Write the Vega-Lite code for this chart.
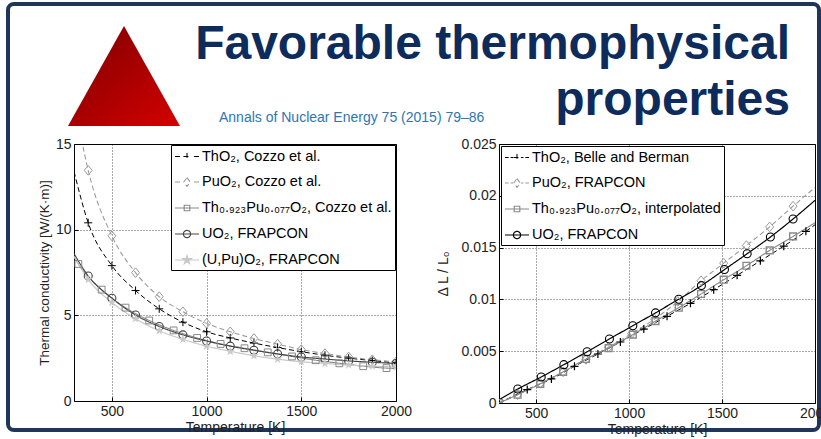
{
 "$schema": "https://vega.github.io/schema/vega-lite/v6.json",
 "autosize": {"type": "pad"},
 "padding": {"left": 5, "top": 2, "right": 0, "bottom": 0},
 "background": "#ffffff",
 "bounds": "flush",
 "spacing": 10,
 "datasets": {
  "head": [{"t1": "Favorable thermophysical", "t2": "properties", "c": "Annals of Nuclear Energy 75 (2015) 79–86"}],
  "k": [
   {"s": "ThO₂, Cozzo et al.", "T": 300, "v": 13.4, "m": 0},
   {"s": "ThO₂, Cozzo et al.", "T": 375, "v": 10.4, "m": 1},
   {"s": "ThO₂, Cozzo et al.", "T": 500, "v": 7.9, "m": 1},
   {"s": "ThO₂, Cozzo et al.", "T": 625, "v": 6.45, "m": 1},
   {"s": "ThO₂, Cozzo et al.", "T": 750, "v": 5.38, "m": 1},
   {"s": "ThO₂, Cozzo et al.", "T": 875, "v": 4.6, "m": 1},
   {"s": "ThO₂, Cozzo et al.", "T": 1000, "v": 4.04, "m": 1},
   {"s": "ThO₂, Cozzo et al.", "T": 1125, "v": 3.68, "m": 1},
   {"s": "ThO₂, Cozzo et al.", "T": 1250, "v": 3.38, "m": 1},
   {"s": "ThO₂, Cozzo et al.", "T": 1375, "v": 3.12, "m": 1},
   {"s": "ThO₂, Cozzo et al.", "T": 1500, "v": 2.88, "m": 1},
   {"s": "ThO₂, Cozzo et al.", "T": 1625, "v": 2.67, "m": 1},
   {"s": "ThO₂, Cozzo et al.", "T": 1750, "v": 2.5, "m": 1},
   {"s": "ThO₂, Cozzo et al.", "T": 1875, "v": 2.36, "m": 1},
   {"s": "ThO₂, Cozzo et al.", "T": 2000, "v": 2.22, "m": 1},
   {"s": "PuO₂, Cozzo et al.", "T": 300, "v": 17.6, "m": 0},
   {"s": "PuO₂, Cozzo et al.", "T": 375, "v": 13.46, "m": 1},
   {"s": "PuO₂, Cozzo et al.", "T": 500, "v": 9.64, "m": 1},
   {"s": "PuO₂, Cozzo et al.", "T": 625, "v": 7.49, "m": 1},
   {"s": "PuO₂, Cozzo et al.", "T": 750, "v": 6.09, "m": 1},
   {"s": "PuO₂, Cozzo et al.", "T": 875, "v": 5.21, "m": 1},
   {"s": "PuO₂, Cozzo et al.", "T": 1000, "v": 4.53, "m": 1},
   {"s": "PuO₂, Cozzo et al.", "T": 1125, "v": 4.04, "m": 1},
   {"s": "PuO₂, Cozzo et al.", "T": 1250, "v": 3.65, "m": 1},
   {"s": "PuO₂, Cozzo et al.", "T": 1375, "v": 3.32, "m": 1},
   {"s": "PuO₂, Cozzo et al.", "T": 1500, "v": 3.0, "m": 1},
   {"s": "PuO₂, Cozzo et al.", "T": 1625, "v": 2.77, "m": 1},
   {"s": "PuO₂, Cozzo et al.", "T": 1750, "v": 2.57, "m": 1},
   {"s": "PuO₂, Cozzo et al.", "T": 1875, "v": 2.41, "m": 1},
   {"s": "PuO₂, Cozzo et al.", "T": 2000, "v": 2.28, "m": 1},
   {"s": "Th₀.₉₂₃Pu₀.₀₇₇O₂, Cozzo et al.", "T": 300, "v": 8.4, "m": 0},
   {"s": "Th₀.₉₂₃Pu₀.₀₇₇O₂, Cozzo et al.", "T": 323, "v": 8.0, "m": 1},
   {"s": "Th₀.₉₂₃Pu₀.₀₇₇O₂, Cozzo et al.", "T": 446, "v": 6.5, "m": 1},
   {"s": "Th₀.₉₂₃Pu₀.₀₇₇O₂, Cozzo et al.", "T": 572, "v": 5.45, "m": 1},
   {"s": "Th₀.₉₂₃Pu₀.₀₇₇O₂, Cozzo et al.", "T": 697, "v": 4.7, "m": 1},
   {"s": "Th₀.₉₂₃Pu₀.₀₇₇O₂, Cozzo et al.", "T": 826, "v": 4.12, "m": 1},
   {"s": "Th₀.₉₂₃Pu₀.₀₇₇O₂, Cozzo et al.", "T": 950, "v": 3.68, "m": 1},
   {"s": "Th₀.₉₂₃Pu₀.₀₇₇O₂, Cozzo et al.", "T": 1074, "v": 3.33, "m": 1},
   {"s": "Th₀.₉₂₃Pu₀.₀₇₇O₂, Cozzo et al.", "T": 1200, "v": 3.08, "m": 1},
   {"s": "Th₀.₉₂₃Pu₀.₀₇₇O₂, Cozzo et al.", "T": 1323, "v": 2.84, "m": 1},
   {"s": "Th₀.₉₂₃Pu₀.₀₇₇O₂, Cozzo et al.", "T": 1451, "v": 2.6, "m": 1},
   {"s": "Th₀.₉₂₃Pu₀.₀₇₇O₂, Cozzo et al.", "T": 1576, "v": 2.38, "m": 1},
   {"s": "Th₀.₉₂₃Pu₀.₀₇₇O₂, Cozzo et al.", "T": 1701, "v": 2.2, "m": 1},
   {"s": "Th₀.₉₂₃Pu₀.₀₇₇O₂, Cozzo et al.", "T": 1827, "v": 2.03, "m": 1},
   {"s": "Th₀.₉₂₃Pu₀.₀₇₇O₂, Cozzo et al.", "T": 1950, "v": 1.92, "m": 1},
   {"s": "Th₀.₉₂₃Pu₀.₀₇₇O₂, Cozzo et al.", "T": 2000, "v": 1.9, "m": 0},
   {"s": "UO₂, FRAPCON", "T": 300, "v": 8.6, "m": 0},
   {"s": "UO₂, FRAPCON", "T": 375, "v": 7.3, "m": 1},
   {"s": "UO₂, FRAPCON", "T": 500, "v": 6.0, "m": 1},
   {"s": "UO₂, FRAPCON", "T": 625, "v": 5.02, "m": 1},
   {"s": "UO₂, FRAPCON", "T": 750, "v": 4.35, "m": 1},
   {"s": "UO₂, FRAPCON", "T": 875, "v": 3.86, "m": 1},
   {"s": "UO₂, FRAPCON", "T": 1000, "v": 3.5, "m": 1},
   {"s": "UO₂, FRAPCON", "T": 1125, "v": 3.2, "m": 1},
   {"s": "UO₂, FRAPCON", "T": 1250, "v": 2.96, "m": 1},
   {"s": "UO₂, FRAPCON", "T": 1375, "v": 2.75, "m": 1},
   {"s": "UO₂, FRAPCON", "T": 1500, "v": 2.57, "m": 1},
   {"s": "UO₂, FRAPCON", "T": 1625, "v": 2.45, "m": 1},
   {"s": "UO₂, FRAPCON", "T": 1750, "v": 2.34, "m": 1},
   {"s": "UO₂, FRAPCON", "T": 1875, "v": 2.26, "m": 1},
   {"s": "UO₂, FRAPCON", "T": 2000, "v": 2.19, "m": 1},
   {"s": "(U,Pu)O₂, FRAPCON", "T": 300, "v": 8.45, "m": 0},
   {"s": "(U,Pu)O₂, FRAPCON", "T": 375, "v": 7.1, "m": 1},
   {"s": "(U,Pu)O₂, FRAPCON", "T": 500, "v": 5.75, "m": 1},
   {"s": "(U,Pu)O₂, FRAPCON", "T": 625, "v": 4.8, "m": 1},
   {"s": "(U,Pu)O₂, FRAPCON", "T": 750, "v": 4.1, "m": 1},
   {"s": "(U,Pu)O₂, FRAPCON", "T": 875, "v": 3.6, "m": 1},
   {"s": "(U,Pu)O₂, FRAPCON", "T": 1000, "v": 3.2, "m": 1},
   {"s": "(U,Pu)O₂, FRAPCON", "T": 1125, "v": 2.9, "m": 1},
   {"s": "(U,Pu)O₂, FRAPCON", "T": 1250, "v": 2.64, "m": 1},
   {"s": "(U,Pu)O₂, FRAPCON", "T": 1375, "v": 2.44, "m": 1},
   {"s": "(U,Pu)O₂, FRAPCON", "T": 1500, "v": 2.29, "m": 1},
   {"s": "(U,Pu)O₂, FRAPCON", "T": 1625, "v": 2.19, "m": 1},
   {"s": "(U,Pu)O₂, FRAPCON", "T": 1750, "v": 2.1, "m": 1},
   {"s": "(U,Pu)O₂, FRAPCON", "T": 1875, "v": 2.03, "m": 1},
   {"s": "(U,Pu)O₂, FRAPCON", "T": 2000, "v": 1.99, "m": 1}
  ],
  "dl": [
   {"s": "ThO₂, Belle and Berman", "T": 300, "v": 0.0, "m": 0},
   {"s": "ThO₂, Belle and Berman", "T": 452, "v": 0.0013, "m": 1},
   {"s": "ThO₂, Belle and Berman", "T": 582, "v": 0.00232, "m": 1},
   {"s": "ThO₂, Belle and Berman", "T": 706, "v": 0.00354, "m": 1},
   {"s": "ThO₂, Belle and Berman", "T": 832, "v": 0.00473, "m": 1},
   {"s": "ThO₂, Belle and Berman", "T": 953, "v": 0.00589, "m": 1},
   {"s": "ThO₂, Belle and Berman", "T": 1079, "v": 0.00714, "m": 1},
   {"s": "ThO₂, Belle and Berman", "T": 1204, "v": 0.00837, "m": 1},
   {"s": "ThO₂, Belle and Berman", "T": 1330, "v": 0.00962, "m": 1},
   {"s": "ThO₂, Belle and Berman", "T": 1455, "v": 0.01094, "m": 1},
   {"s": "ThO₂, Belle and Berman", "T": 1581, "v": 0.01232, "m": 1},
   {"s": "ThO₂, Belle and Berman", "T": 1706, "v": 0.01372, "m": 1},
   {"s": "ThO₂, Belle and Berman", "T": 1832, "v": 0.01514, "m": 1},
   {"s": "ThO₂, Belle and Berman", "T": 1951, "v": 0.01657, "m": 1},
   {"s": "ThO₂, Belle and Berman", "T": 2000, "v": 0.0172, "m": 0},
   {"s": "PuO₂, FRAPCON", "T": 300, "v": 0.0, "m": 0},
   {"s": "PuO₂, FRAPCON", "T": 400, "v": 0.0008, "m": 1},
   {"s": "PuO₂, FRAPCON", "T": 522, "v": 0.0019, "m": 1},
   {"s": "PuO₂, FRAPCON", "T": 645, "v": 0.003, "m": 1},
   {"s": "PuO₂, FRAPCON", "T": 768, "v": 0.0042, "m": 1},
   {"s": "PuO₂, FRAPCON", "T": 890, "v": 0.0054, "m": 1},
   {"s": "PuO₂, FRAPCON", "T": 1013, "v": 0.0067, "m": 1},
   {"s": "PuO₂, FRAPCON", "T": 1137, "v": 0.0081, "m": 1},
   {"s": "PuO₂, FRAPCON", "T": 1262, "v": 0.0098, "m": 1},
   {"s": "PuO₂, FRAPCON", "T": 1387, "v": 0.0118, "m": 1},
   {"s": "PuO₂, FRAPCON", "T": 1509, "v": 0.0135, "m": 1},
   {"s": "PuO₂, FRAPCON", "T": 1631, "v": 0.0152, "m": 1},
   {"s": "PuO₂, FRAPCON", "T": 1756, "v": 0.017, "m": 1},
   {"s": "PuO₂, FRAPCON", "T": 1882, "v": 0.019, "m": 1},
   {"s": "PuO₂, FRAPCON", "T": 2000, "v": 0.0208, "m": 0},
   {"s": "Th₀.₉₂₃Pu₀.₀₇₇O₂, interpolated", "T": 300, "v": 0.0, "m": 1},
   {"s": "Th₀.₉₂₃Pu₀.₀₇₇O₂, interpolated", "T": 400, "v": 0.0008, "m": 1},
   {"s": "Th₀.₉₂₃Pu₀.₀₇₇O₂, interpolated", "T": 522, "v": 0.00185, "m": 1},
   {"s": "Th₀.₉₂₃Pu₀.₀₇₇O₂, interpolated", "T": 645, "v": 0.003, "m": 1},
   {"s": "Th₀.₉₂₃Pu₀.₀₇₇O₂, interpolated", "T": 768, "v": 0.00425, "m": 1},
   {"s": "Th₀.₉₂₃Pu₀.₀₇₇O₂, interpolated", "T": 890, "v": 0.0053, "m": 1},
   {"s": "Th₀.₉₂₃Pu₀.₀₇₇O₂, interpolated", "T": 1020, "v": 0.0066, "m": 1},
   {"s": "Th₀.₉₂₃Pu₀.₀₇₇O₂, interpolated", "T": 1142, "v": 0.0079, "m": 1},
   {"s": "Th₀.₉₂₃Pu₀.₀₇₇O₂, interpolated", "T": 1267, "v": 0.0092, "m": 1},
   {"s": "Th₀.₉₂₃Pu₀.₀₇₇O₂, interpolated", "T": 1387, "v": 0.01052, "m": 1},
   {"s": "Th₀.₉₂₃Pu₀.₀₇₇O₂, interpolated", "T": 1509, "v": 0.0119, "m": 1},
   {"s": "Th₀.₉₂₃Pu₀.₀₇₇O₂, interpolated", "T": 1631, "v": 0.01325, "m": 1},
   {"s": "Th₀.₉₂₃Pu₀.₀₇₇O₂, interpolated", "T": 1756, "v": 0.01473, "m": 1},
   {"s": "Th₀.₉₂₃Pu₀.₀₇₇O₂, interpolated", "T": 1882, "v": 0.01608, "m": 1},
   {"s": "Th₀.₉₂₃Pu₀.₀₇₇O₂, interpolated", "T": 2000, "v": 0.0174, "m": 0},
   {"s": "UO₂, FRAPCON", "T": 300, "v": 0.0003, "m": 0},
   {"s": "UO₂, FRAPCON", "T": 401, "v": 0.00135, "m": 1},
   {"s": "UO₂, FRAPCON", "T": 527, "v": 0.00251, "m": 1},
   {"s": "UO₂, FRAPCON", "T": 649, "v": 0.0037, "m": 1},
   {"s": "UO₂, FRAPCON", "T": 774, "v": 0.00495, "m": 1},
   {"s": "UO₂, FRAPCON", "T": 894, "v": 0.00618, "m": 1},
   {"s": "UO₂, FRAPCON", "T": 1020, "v": 0.00746, "m": 1},
   {"s": "UO₂, FRAPCON", "T": 1142, "v": 0.0087, "m": 1},
   {"s": "UO₂, FRAPCON", "T": 1267, "v": 0.01002, "m": 1},
   {"s": "UO₂, FRAPCON", "T": 1389, "v": 0.01133, "m": 1},
   {"s": "UO₂, FRAPCON", "T": 1513, "v": 0.01288, "m": 1},
   {"s": "UO₂, FRAPCON", "T": 1635, "v": 0.01441, "m": 1},
   {"s": "UO₂, FRAPCON", "T": 1760, "v": 0.01602, "m": 1},
   {"s": "UO₂, FRAPCON", "T": 1882, "v": 0.01776, "m": 1},
   {"s": "UO₂, FRAPCON", "T": 2000, "v": 0.01956, "m": 0}
  ]
 },
 "vconcat": [
  {
   "width": 745,
   "height": 130,
   "view": {"stroke": null},
   "data": {"name": "head"},
   "layer": [
    {
     "mark": {"type": "rect", "fill": "#ffffff", "fillOpacity": 0, "stroke": "#1f3658", "strokeWidth": 4, "cornerRadius": 6},
     "encoding": {
      "x": {"datum": -0.0886, "type": "quantitative", "scale": {"domain": [0, 1], "nice": false, "zero": false}, "axis": null},
      "x2": {"datum": 1.0},
      "y": {"datum": 1.0, "type": "quantitative", "scale": {"domain": [0, 1], "nice": false, "zero": false}, "axis": null},
      "y2": {"datum": -2.277}
     }
    },
    {
     "mark": {"type": "point", "shape": "M0,-0.893L-1,0.893L1,0.893Z", "size": 12544, "filled": true, "opacity": 1, "strokeWidth": 0,
      "color": {"gradient": "linear", "x1": 0, "y1": 0, "x2": 1, "y2": 1, "stops": [{"offset": 0, "color": "#7c0000"}, {"offset": 1, "color": "#d40000"}]}},
     "encoding": {
      "x": {"datum": 0.0671, "type": "quantitative"},
      "y": {"datum": 0.4462, "type": "quantitative"}
     }
    },
    {
     "mark": {"type": "text", "align": "right", "baseline": "alphabetic", "font": "Liberation Sans", "fontSize": 48, "fontWeight": "bold", "color": "#0d2c5c"},
     "encoding": {
      "x": {"datum": 0.9611, "type": "quantitative"},
      "y": {"datum": 0.5769, "type": "quantitative"},
      "text": {"field": "t1"}
     }
    },
    {
     "mark": {"type": "text", "align": "right", "baseline": "alphabetic", "font": "Liberation Sans", "fontSize": 48, "fontWeight": "bold", "color": "#0d2c5c"},
     "encoding": {
      "x": {"datum": 0.9611, "type": "quantitative"},
      "y": {"datum": 0.1462, "type": "quantitative"},
      "text": {"field": "t2"}
     }
    },
    {
     "mark": {"type": "text", "align": "left", "baseline": "alphabetic", "font": "Liberation Sans", "fontSize": 14, "color": "#2e75b6"},
     "encoding": {
      "x": {"datum": 0.1946, "type": "quantitative"},
      "y": {"datum": 0.0923, "type": "quantitative"},
      "text": {"field": "c"}
     }
    }
   ]
  },
  {
   "bounds": "flush",
   "spacing": 103,
   "resolve": {"scale": {"color": "independent", "strokeDash": "independent", "strokeWidth": "independent"}},
   "hconcat": [
    {
     "width": 322,
     "height": 257,
     "data": {"name": "k"},
     "encoding": {
      "x": {"field": "T", "type": "quantitative", "scale": {"domain": [300, 2000], "nice": false, "zero": false}, "axis": {"values": [500, 1000, 1500, 2000], "format": "d", "title": "Temperature [K]", "labelFlush": false}},
      "y": {"field": "v", "type": "quantitative", "scale": {"domain": [0, 15], "nice": false}, "axis": {"values": [0, 5, 10, 15], "title": "Thermal conductivity [W/(K·m)]", "labelFlush": false, "titleFontSize": 13.5, "titlePadding": 4}},
      "color": {"field": "s", "type": "nominal", "scale": {"domain": ["ThO₂, Cozzo et al.", "PuO₂, Cozzo et al.", "Th₀.₉₂₃Pu₀.₀₇₇O₂, Cozzo et al.", "UO₂, FRAPCON", "(U,Pu)O₂, FRAPCON"], "range": ["#000000", "#999999", "#888888", "#444444", "#c8c8c8"]},
       "legend": {"orient": "top-right", "offset": 1, "title": null, "symbolSize": 256,
        "encode": {"symbols": {"update": {
         "shape": {"signal": "['M-1,0H-0.375M1.375,0H2M0.05,0H0.95M0.5,-0.45V0.45', 'M-1,0H-0.375M1.375,0H2M0.5,-0.55L0.9,0L0.5,0.55L0.1,0Z', 'M-1,0H2M0.15,-0.35H0.85V0.35H0.15Z', 'M-1,0H2M0.05,0A0.45,0.45 0 1,0 0.95,0A0.45,0.45 0 1,0 0.05,0', 'M-1,0H2M0.5,-0.55L0.623,-0.17L1.023,-0.17L0.7,0.065L0.823,0.445L0.5,0.21L0.177,0.445L0.3,0.065L-0.023,-0.17L0.377,-0.17Z'][datum.index]"},
         "fill": {"signal": "datum.index === 4 ? '#c8c8c8' : 'transparent'"},
         "fillOpacity": {"signal": "datum.index === 4 ? 1 : 0"},
         "opacity": {"value": 1},
         "size": {"value": 256},
         "strokeWidth": {"value": 1},
         "strokeDash": {"value": [1, 0]}
        }}}}}
     },
     "layer": [
      {
       "mark": {"type": "line", "interpolate": "monotone", "clip": true},
       "encoding": {
        "strokeDash": {"field": "s", "type": "nominal", "scale": {"domain": ["ThO₂, Cozzo et al.", "PuO₂, Cozzo et al.", "Th₀.₉₂₃Pu₀.₀₇₇O₂, Cozzo et al.", "UO₂, FRAPCON", "(U,Pu)O₂, FRAPCON"], "range": [[5, 3], [5, 3], [1, 0], [1, 0], [1, 0]]}, "legend": null},
        "strokeWidth": {"field": "s", "type": "ordinal", "scale": {"domain": ["ThO₂, Cozzo et al.", "PuO₂, Cozzo et al.", "Th₀.₉₂₃Pu₀.₀₇₇O₂, Cozzo et al.", "UO₂, FRAPCON", "(U,Pu)O₂, FRAPCON"], "range": [1, 1.2, 1, 1.6, 2.2]}, "legend": null}
       }
      },
      {
       "transform": [{"filter": "datum.m == 1 && datum.s == 'ThO₂, Cozzo et al.'"}],
       "mark": {"type": "point", "shape": "M-1,0H1M0,-1V1", "filled": false, "opacity": 1, "strokeWidth": 1, "size": 64, "clip": true},
       "encoding": {}
      },
      {
       "transform": [{"filter": "datum.m == 1 && datum.s == 'PuO₂, Cozzo et al.'"}],
       "mark": {"type": "point", "shape": "M0,-1.2L1,0L0,1.2L-1,0Z", "filled": false, "opacity": 1, "strokeWidth": 1, "size": 64, "clip": true},
       "encoding": {}
      },
      {
       "transform": [{"filter": "datum.m == 1 && datum.s == 'Th₀.₉₂₃Pu₀.₀₇₇O₂, Cozzo et al.'"}],
       "mark": {"type": "point", "shape": "M-0.85,-0.85H0.85V0.85H-0.85Z", "filled": false, "opacity": 1, "strokeWidth": 1, "size": 64, "clip": true},
       "encoding": {}
      },
      {
       "transform": [{"filter": "datum.m == 1 && datum.s == 'UO₂, FRAPCON'"}],
       "mark": {"type": "point", "shape": "M-1,0A1,1 0 1,0 1,0A1,1 0 1,0 -1,0", "filled": false, "opacity": 1, "strokeWidth": 1.1, "size": 64, "clip": true},
       "encoding": {}
      },
      {
       "transform": [{"filter": "datum.m == 1 && datum.s == '(U,Pu)O₂, FRAPCON'"}],
       "mark": {"type": "point", "shape": "M0,-1L0.2245,-0.309L0.951,-0.309L0.363,0.118L0.588,0.809L0,0.382L-0.588,0.809L-0.363,0.118L-0.951,-0.309L-0.2245,-0.309Z", "filled": true, "opacity": 1, "size": 90, "clip": true},
       "encoding": {}
      }
     ]
    },
    {
     "width": 316,
     "height": 259,
     "data": {"name": "dl"},
     "encoding": {
      "x": {"field": "T", "type": "quantitative", "scale": {"domain": [300, 2000], "nice": false, "zero": false}, "axis": {"values": [500, 1000, 1500, 2000], "format": "d", "title": "Temperature [K]", "labelFlush": false}},
      "y": {"field": "v", "type": "quantitative", "scale": {"domain": [0, 0.025], "nice": false}, "axis": {"values": [0, 0.005, 0.01, 0.015, 0.02, 0.025], "format": "~g", "title": "Δ L / L₀", "labelFlush": false, "titlePadding": 10}},
      "color": {"field": "s", "type": "nominal", "scale": {"domain": ["ThO₂, Belle and Berman", "PuO₂, FRAPCON", "Th₀.₉₂₃Pu₀.₀₇₇O₂, interpolated", "UO₂, FRAPCON"], "range": ["#000000", "#999999", "#888888", "#000000"]},
       "legend": {"orient": "top-left", "offset": 2, "title": null, "symbolSize": 256,
        "encode": {"symbols": {"update": {
         "shape": {"signal": "['M-1,0H-0.55M-0.3,0H0M1,0H1.3M1.55,0H2M0.05,0H0.95M0.5,-0.45V0.45', 'M-1,0H-0.55M-0.3,0H0M1,0H1.3M1.55,0H2M0.5,-0.55L0.9,0L0.5,0.55L0.1,0Z', 'M-1,0H2M0.15,-0.35H0.85V0.35H0.15Z', 'M-1,0H2M0.05,0A0.45,0.45 0 1,0 0.95,0A0.45,0.45 0 1,0 0.05,0'][datum.index]"},
         "fill": {"value": "transparent"},
         "fillOpacity": {"value": 0},
         "size": {"value": 256},
         "strokeWidth": {"value": 1},
         "strokeDash": {"value": [1, 0]}
        }}}}}
     },
     "layer": [
      {
       "mark": {"type": "line", "interpolate": "monotone", "clip": true},
       "encoding": {
        "strokeDash": {"field": "s", "type": "nominal", "scale": {"domain": ["ThO₂, Belle and Berman", "PuO₂, FRAPCON", "Th₀.₉₂₃Pu₀.₀₇₇O₂, interpolated", "UO₂, FRAPCON"], "range": [[5, 3], [5, 3], [1, 0], [1, 0]]}, "legend": null},
        "strokeWidth": {"field": "s", "type": "ordinal", "scale": {"domain": ["ThO₂, Belle and Berman", "PuO₂, FRAPCON", "Th₀.₉₂₃Pu₀.₀₇₇O₂, interpolated", "UO₂, FRAPCON"], "range": [1, 1.2, 1.5, 1.2]}, "legend": null}
       }
      },
      {
       "transform": [{"filter": "datum.m == 1 && datum.s == 'ThO₂, Belle and Berman'"}],
       "mark": {"type": "point", "shape": "M-1,0H1M0,-1V1", "filled": false, "opacity": 1, "strokeWidth": 1.2, "size": 64, "clip": true},
       "encoding": {}
      },
      {
       "transform": [{"filter": "datum.m == 1 && datum.s == 'PuO₂, FRAPCON'"}],
       "mark": {"type": "point", "shape": "M0,-1.2L1,0L0,1.2L-1,0Z", "filled": false, "opacity": 1, "strokeWidth": 1, "size": 64, "clip": true},
       "encoding": {}
      },
      {
       "transform": [{"filter": "datum.m == 1 && datum.s == 'Th₀.₉₂₃Pu₀.₀₇₇O₂, interpolated'"}],
       "mark": {"type": "point", "shape": "M-0.85,-0.85H0.85V0.85H-0.85Z", "filled": false, "opacity": 1, "strokeWidth": 1.4, "size": 64, "clip": true},
       "encoding": {}
      },
      {
       "transform": [{"filter": "datum.m == 1 && datum.s == 'UO₂, FRAPCON'"}],
       "mark": {"type": "point", "shape": "M-1,0A1,1 0 1,0 1,0A1,1 0 1,0 -1,0", "filled": false, "opacity": 1, "strokeWidth": 1.1, "size": 64, "clip": true},
       "encoding": {}
      }
     ]
    }
   ]
  }
 ],
 "config": {
  "font": "Liberation Sans",
  "view": {"stroke": "#000000", "strokeWidth": 1},
  "axis": {
   "labelFont": "Liberation Sans", "labelFontSize": 14, "labelColor": "#222222",
   "titleFont": "Liberation Sans", "titleFontSize": 14, "titleFontWeight": "normal", "titleColor": "#222222",
   "grid": true, "gridColor": "#000000", "gridDash": [1, 2], "gridOpacity": 0.85, "gridWidth": 0.8,
   "domain": false, "tickSize": -4, "tickColor": "#000000", "labelPadding": 7, "titlePadding": 2
  },
  "legend": {
   "labelFont": "Liberation Sans", "labelFontSize": 14.5, "labelColor": "#000000", "labelLimit": 0,
   "strokeColor": "#000000", "fillColor": "#ffffff", "padding": 3, "rowPadding": 10, "labelOffset": 10,
   "symbolStrokeWidth": 1, "cornerRadius": 0
  }
 }
}
